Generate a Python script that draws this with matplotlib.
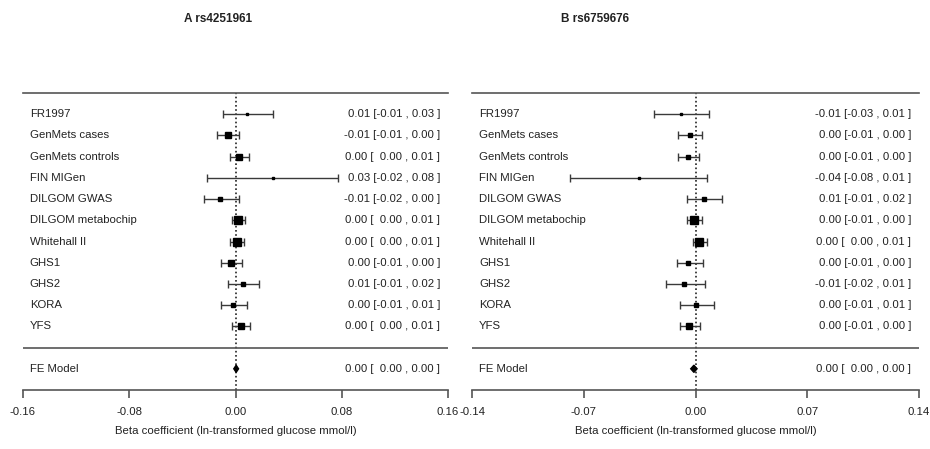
import matplotlib
matplotlib.use("Agg")
import matplotlib.pyplot as plt
import numpy as np

plt.rcParams['font.family'] = ['Liberation Sans', 'DejaVu Sans']

studies = ["FR1997", "GenMets cases", "GenMets controls", "FIN MIGen", "DILGOM GWAS",
           "DILGOM metabochip", "Whitehall II", "GHS1", "GHS2", "KORA", "YFS"]

# Panel A: rs4251961
a_est = [0.0083, -0.0055, 0.0025, 0.0280, -0.0113, 0.0018, 0.0008, -0.0033, 0.0058, -0.0020, 0.0038]
a_lo = [-0.0093, -0.0143, -0.0043, -0.0218, -0.0238, -0.0030, -0.0038, -0.0108, -0.0058, -0.0108, -0.0030]
a_hi = [0.0280, 0.0030, 0.0100, 0.0775, 0.0030, 0.0068, 0.0063, 0.0050, 0.0178, 0.0083, 0.0108]
a_wt = [3, 6, 6, 3, 4, 8, 9, 6, 5, 4, 7]
a_fe = [0.0005, -0.0013, 0.0023]
a_txt = ["0.01 [-0.01 , 0.03 ]", "-0.01 [-0.01 , 0.00 ]", "0.00 [  0.00 , 0.01 ]",
         "0.03 [-0.02 , 0.08 ]", "-0.01 [-0.02 , 0.00 ]", "0.00 [  0.00 , 0.01 ]",
         "0.00 [  0.00 , 0.01 ]", "0.00 [-0.01 , 0.00 ]", "0.01 [-0.01 , 0.02 ]",
         "0.00 [-0.01 , 0.01 ]", "0.00 [  0.00 , 0.01 ]"]
a_fe_txt = "0.00 [  0.00 , 0.00 ]"
a_ticks = [-0.16, -0.08, 0.00, 0.08, 0.16]

# Panel B: rs6759676
b_est = [-0.0090, -0.0036, -0.0048, -0.0355, 0.0056, -0.0010, 0.0025, -0.0046, -0.0069, 0.0004, -0.0038]
b_lo = [-0.0257, -0.0109, -0.0109, -0.0788, -0.0052, -0.0052, -0.0017, -0.0115, -0.0182, -0.0094, -0.0094]
b_hi = [0.0086, 0.0042, 0.0019, 0.0073, 0.0169, 0.0042, 0.0073, 0.0044, 0.0059, 0.0115, 0.0027]
b_wt = [3, 5, 5, 2.5, 4, 9, 8, 5, 4, 3.5, 6]
b_fe = [-0.0010, -0.0030, 0.0010]
b_txt = ["-0.01 [-0.03 , 0.01 ]", "0.00 [-0.01 , 0.00 ]", "0.00 [-0.01 , 0.00 ]",
         "-0.04 [-0.08 , 0.01 ]", "0.01 [-0.01 , 0.02 ]", "0.00 [-0.01 , 0.00 ]",
         "0.00 [  0.00 , 0.01 ]", "0.00 [-0.01 , 0.00 ]", "-0.01 [-0.02 , 0.01 ]",
         "0.00 [-0.01 , 0.01 ]", "0.00 [-0.01 , 0.00 ]"]
b_fe_txt = "0.00 [  0.00 , 0.00 ]"
b_ticks = [-0.14, -0.07, 0.00, 0.07, 0.14]

W, H = 930, 449
fig = plt.figure(figsize=(W / 100, H / 100), dpi=100)

LINE = '#555555'
TXT = '#222222'
FS = 8.2


def panel(left_px, right_px, est, lo, hi, wt, fe, txt, fe_txt, ticks, title, title_x):
    bottom_px = 390
    top_px = 93
    ax = fig.add_axes([left_px / W, (H - bottom_px) / H,
                       (right_px - left_px) / W, (bottom_px - top_px) / H])
    k = len(est)
    ax.set_xlim(ticks[0], ticks[-1])
    ax.set_ylim(-2, k + 1)
    rows = np.arange(k, 0, -1)
    span = ticks[-1] - ticks[0]
    for s in ['left', 'right']:
        ax.spines[s].set_visible(False)
    ax.spines['top'].set_color(LINE)
    ax.spines['top'].set_linewidth(1.2)
    ax.spines['bottom'].set_color(LINE)
    ax.spines['bottom'].set_linewidth(1.2)
    ax.set_yticks([])
    ax.set_xticks(ticks)
    ax.set_xticklabels([f"{t:.2f}" for t in ticks])
    ax.tick_params(axis='x', direction='out', length=6, width=1.2, color=LINE,
                   labelsize=FS, labelcolor=TXT, pad=6)
    ax.set_xlabel("Beta coefficient (ln-transformed glucose mmol/l)", fontsize=FS,
                  color=TXT, labelpad=7)
    ax.axhline(0, color=LINE, lw=1.2)
    ax.plot([0, 0], [-2, k + 1], ls=(0, (1, 1.5)), color='#222222', lw=1.2, zorder=1)
    est = np.array(est); lo = np.array(lo); hi = np.array(hi)
    ax.errorbar(est, rows, xerr=[est - lo, hi - est], fmt='none', ecolor='#3a3a3a',
                elinewidth=1.0, capsize=3, capthick=1.0, zorder=2)
    for x, y, w in zip(est, rows, wt):
        ax.plot([x], [y], marker='s', ms=w * 0.7, color='black', mec='black', zorder=3)
    fx, flo, fhi = fe
    ax.fill([flo, fx, fhi, fx], [-1, -1 + 0.17, -1, -1 - 0.17], color='black', zorder=3)
    lab_x = ticks[0] + 0.016 * span
    ann_x = ticks[-1] - 0.018 * span
    for y, s, t in zip(rows, studies, txt):
        ax.text(lab_x, y, s, ha='left', va='center', fontsize=FS, color=TXT)
        ax.text(ann_x, y, t, ha='right', va='center', fontsize=FS, color=TXT)
    ax.text(lab_x, -1, "FE Model", ha='left', va='center', fontsize=FS, color=TXT)
    ax.text(ann_x, -1, fe_txt, ha='right', va='center', fontsize=FS, color=TXT)
    fig.text(title_x / W, 1 - 19 / H, title, ha='center', va='center',
             fontsize=8.5, fontweight='bold', color=TXT)
    return ax


panel(23, 448, a_est, a_lo, a_hi, a_wt, a_fe, a_txt, a_fe_txt, a_ticks, "A rs4251961", 218)
panel(472, 919, b_est, b_lo, b_hi, b_wt, b_fe, b_txt, b_fe_txt, b_ticks, "B rs6759676", 595)

fig.savefig("out.png", dpi=100)
